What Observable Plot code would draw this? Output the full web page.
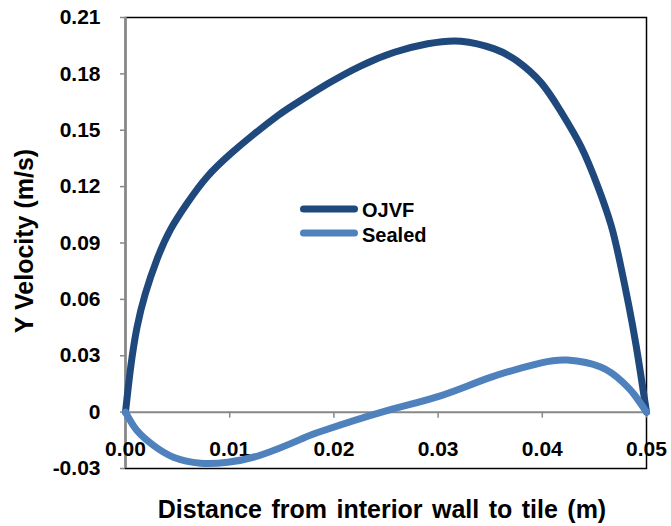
<!DOCTYPE html>
<html>
<head>
<meta charset="utf-8">
<script src="https://cdn.jsdelivr.net/npm/d3@7"></script>
<script src="https://cdn.jsdelivr.net/npm/@observablehq/plot@0.6"></script>
<style>
  body { margin: 0; background: #fff; font-family: "Liberation Sans", Arial, sans-serif; }
  #chart { position: relative; width: 671px; height: 526px; }
  .lg-line { position: absolute; }
  .lg-text { position: absolute; font-weight: bold; font-size: 20px; line-height: 24px; color: #000; white-space: nowrap; }
</style>
</head>
<body>
<div id="chart"></div>
<script>
// ---- data ----
const seriesNames = ["OJVF", "Sealed"];
const seriesColors = ["#1F497D", "#4F81BD"];

const ojvfX = [0, 0.0005, 0.0011, 0.0019, 0.003, 0.0043, 0.0059, 0.0078, 0.0101, 0.0123, 0.0146, 0.0162, 0.0194, 0.0226, 0.0258, 0.029, 0.0322, 0.0354, 0.0376, 0.0399, 0.0418, 0.0437, 0.0453, 0.0466, 0.0475, 0.0483, 0.049, 0.0496, 0.05];
const ojvfY = [0, 0.024, 0.045, 0.063, 0.081, 0.097, 0.111, 0.125, 0.1375, 0.1478, 0.1577, 0.1637, 0.1747, 0.1843, 0.1915, 0.196, 0.1974, 0.1933, 0.1868, 0.1752, 0.1598, 0.1415, 0.1205, 0.0995, 0.0785, 0.0568, 0.0355, 0.0145, 0];

const sealedX = [0, 0.0011, 0.0027, 0.0046, 0.0072, 0.0098, 0.013, 0.0168, 0.0188, 0.0246, 0.0303, 0.0351, 0.0399, 0.0424, 0.0456, 0.0477, 0.0488, 0.05];
const sealedY = [0, -0.0098, -0.0178, -0.024, -0.0272, -0.0267, -0.0228, -0.0145, -0.0102, 0, 0.0088, 0.0186, 0.0262, 0.0277, 0.024, 0.016, 0.0095, 0];

const xTicks = [0, 0.01, 0.02, 0.03, 0.04, 0.05];
const yTicks = [-0.03, 0, 0.03, 0.06, 0.09, 0.12, 0.15, 0.18, 0.21];
const xTitle = "Distance from interior wall to tile (m)";
const yTitle = "Y Velocity (m/s)";

// ---- build ----
const ojvf = ojvfX.map((x, i) => ({x, y: ojvfY[i]}));
const sealed = sealedX.map((x, i) => ({x, y: sealedY[i]}));
const gray = "#878787";
const fmtY = d => d === 0 ? "0" : d.toFixed(2);

const plot = Plot.plot({
  width: 671,
  height: 526,
  marginLeft: 125,
  marginRight: 25,
  marginTop: 17,
  marginBottom: 58,
  style: {fontFamily: "'Liberation Sans', Arial, sans-serif", background: "#fff", overflow: "visible"},
  x: {domain: [0, 0.05], axis: null},
  y: {domain: [-0.03, 0.21]},
  marks: [
    Plot.frame({stroke: "#000", strokeWidth: 1.5}),
    Plot.ruleY([0], {stroke: gray, strokeWidth: 2}),
    Plot.ruleX(xTicks, {x: d => d, y1: 0, y2: 0, insetBottom: -6, stroke: gray, strokeWidth: 1.5}),
    Plot.ruleX([0], {stroke: gray, strokeWidth: 2.5}),
    Plot.axisY({ticks: yTicks, tickFormat: fmtY, tickSize: 5, tickPadding: 20, stroke: gray, strokeWidth: 1.5,
      fill: "#000", fontSize: 21, fontWeight: "bold", label: null}),
    Plot.text(xTicks, {x: d => d, frameAnchor: "bottom", dy: -19, lineAnchor: "middle", textAnchor: "middle",
      text: d => d.toFixed(2), fontSize: 21, fontWeight: "bold", fill: "#000"}),
    Plot.text([yTitle], {frameAnchor: "left", dx: -101, dy: -2, rotate: -90, lineAnchor: "middle", textAnchor: "middle",
      text: d => d, fontSize: 25, fontWeight: "bold", fill: "#000"}),
    Plot.text([xTitle], {frameAnchor: "bottom", dy: 41, dx: -4, lineAnchor: "middle", textAnchor: "middle",
      text: d => d, fontSize: 25, fontWeight: "bold", fill: "#000"}),
    Plot.line(ojvf, {x: "x", y: "y", stroke: seriesColors[0], strokeWidth: 7, curve: "natural"}),
    Plot.line(sealed, {x: "x", y: "y", stroke: seriesColors[1], strokeWidth: 7, curve: "natural"})
  ]
});

const chart = document.getElementById("chart");
chart.appendChild(plot);
plot.querySelectorAll("text").forEach(t => {
  if (t.textContent === xTitle) t.style.wordSpacing = "2.5px";
});

// ---- legend (overlay inside plot area) ----
const legendPos = [{y: 209, ty: 210}, {y: 233, ty: 235}];
seriesNames.forEach((name, i) => {
  const ns = "http://www.w3.org/2000/svg";
  const svg = document.createElementNS(ns, "svg");
  svg.setAttribute("width", 59);
  svg.setAttribute("height", 10);
  svg.setAttribute("class", "lg-line");
  svg.style.left = "300px";
  svg.style.top = (legendPos[i].y - 5) + "px";
  const line = document.createElementNS(ns, "line");
  line.setAttribute("x1", 3.5); line.setAttribute("x2", 54.5);
  line.setAttribute("y1", 5); line.setAttribute("y2", 5);
  line.setAttribute("stroke", seriesColors[i]);
  line.setAttribute("stroke-width", 7);
  line.setAttribute("stroke-linecap", "round");
  svg.appendChild(line);
  chart.appendChild(svg);
  const t = document.createElement("div");
  t.className = "lg-text";
  t.textContent = name;
  t.style.left = "362px";
  t.style.top = (legendPos[i].ty - 12) + "px";
  chart.appendChild(t);
});
</script>
</body>
</html>
